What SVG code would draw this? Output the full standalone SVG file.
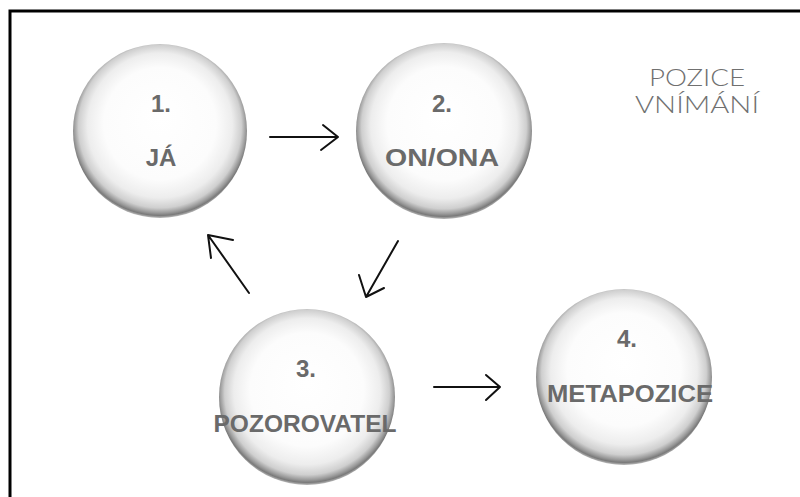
<svg xmlns="http://www.w3.org/2000/svg" width="800" height="497" viewBox="0 0 800 497">
<defs>
<radialGradient id="sph" cx="50%" cy="48%" r="52%" fx="50%" fy="42%">
<stop offset="0" stop-color="#ffffff"/>
<stop offset="0.62" stop-color="#fcfcfc"/>
<stop offset="0.8" stop-color="#ededed"/>
<stop offset="0.9" stop-color="#cfcfcf"/>
<stop offset="0.95" stop-color="#9a9a9a"/>
<stop offset="0.975" stop-color="#7a7a7a"/>
<stop offset="1" stop-color="#bdbdbd"/>
</radialGradient>
<style>
.ball{fill:url(#sph);}
.lbl{font-family:"Liberation Sans",Arial,sans-serif;font-weight:bold;font-size:24px;fill:#6a6a6a;text-anchor:middle;}
.ttl{font-family:Lato,"Open Sans",sans-serif;font-weight:300;font-size:24px;fill:#707070;text-anchor:middle;}
.ar{fill:none;stroke:#111;stroke-width:2;stroke-linecap:round;stroke-linejoin:round;}
</style>
</defs>
<rect x="0" y="0" width="800" height="497" fill="#fff"/>
<path d="M10 497 V11 H800" fill="none" stroke="#000" stroke-width="3"/>
<g id="title">
<text class="ttl" x="697" y="86" textLength="96" lengthAdjust="spacingAndGlyphs">POZICE</text>
<text class="ttl" x="697" y="113" textLength="124" lengthAdjust="spacingAndGlyphs">VNÍMÁNÍ</text>
</g>
<g id="node1">
<circle class="ball" cx="160" cy="131" r="87"/>
<text class="lbl" x="161" y="112">1.</text>
<text class="lbl" x="161" y="166">JÁ</text>
</g>
<g id="node2">
<circle class="ball" cx="444" cy="131" r="88"/>
<text class="lbl" x="442" y="112">2.</text>
<text class="lbl" x="442" y="166" textLength="114" lengthAdjust="spacingAndGlyphs">ON/ONA</text>
</g>
<g id="node3">
<circle class="ball" cx="307" cy="397" r="88"/>
<text class="lbl" x="306" y="377">3.</text>
<text class="lbl" x="305" y="432" textLength="183" lengthAdjust="spacingAndGlyphs">POZOROVATEL</text>
</g>
<g id="node4">
<circle class="ball" cx="624" cy="377" r="88"/>
<text class="lbl" x="627" y="347">4.</text>
<text class="lbl" x="630" y="402" textLength="166" lengthAdjust="spacingAndGlyphs">METAPOZICE</text>
</g>
<g id="connectors">
<path class="ar" d="M270 137 L338 137 M323 125 L338 137 L321 150"/>
<path class="ar" d="M398 241 L366 297 M359 275 L366 297 L384 288"/>
<path class="ar" d="M249 293 L208 235 M233 240 L208 235 L211 258"/>
<path class="ar" d="M434 387 L500 387 M486 375 L500 387 L486 400"/>
</g>
</svg>
